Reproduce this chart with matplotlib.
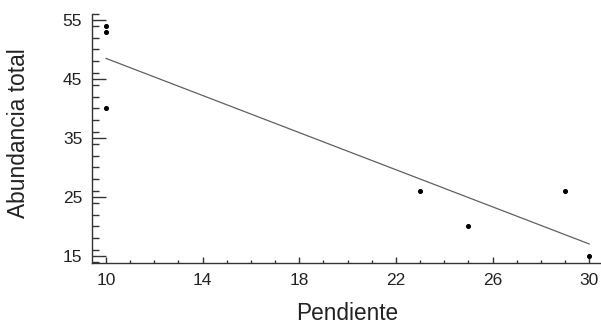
import numpy as np
import matplotlib
matplotlib.use("Agg")
import matplotlib.pyplot as plt
from matplotlib.ticker import MultipleLocator

pendiente = [10, 10, 10, 23, 25, 29, 30]
abundancia = [54, 53, 40, 26, 20, 26, 15]
xticks = [10, 14, 18, 22, 26, 30]
yticks = [15, 25, 35, 45, 55]

plt.rcParams['font.family'] = ['Liberation Sans', 'DejaVu Sans']

fig = plt.figure(figsize=(6.01, 3.24), dpi=100)
ax = fig.add_axes([92/601, 1-263/324, (600-92)/601, (263-14)/324])

slope, intercept = np.polyfit(pendiente, abundancia, 1)
xl = np.array([min(pendiente), max(pendiente)])
ax.plot(xl, intercept + slope*xl, color='#606060', lw=0.9)
ax.scatter(pendiente, abundancia, s=7, color='black', zorder=3)

ax.set_xlim(9.42, 30.45)
ax.set_ylim(13.8, 56.0)
ax.set_xticks(xticks)
ax.set_yticks(yticks)
ax.xaxis.set_minor_locator(MultipleLocator(1))
ax.yaxis.set_minor_locator(MultipleLocator(2))

for s in ['top', 'right']:
    ax.spines[s].set_visible(False)
for s in ['left', 'bottom']:
    ax.spines[s].set_color('#333333')
    ax.spines[s].set_linewidth(1.0)

ax.tick_params(axis='y', which='major', direction='in', length=10, width=1, color='#333333', labelsize=12.5, pad=7, labelcolor='#222222')
ax.tick_params(axis='y', which='minor', direction='in', length=5, width=1, color='#333333')
ax.tick_params(axis='x', which='major', direction='in', length=4, width=1, color='#333333', labelsize=12.5, pad=7, labelcolor='#222222')
ax.tick_params(axis='x', which='minor', direction='in', length=2, width=1, color='#333333')

ax.set_xlabel('Pendiente', fontsize=16.3, color='#222222', va='baseline')
ax.set_ylabel('Abundancia total', fontsize=16.4, color='#222222')
ax.xaxis.set_label_coords(0.503, (263-320)/249)
ax.yaxis.set_label_coords((30.5-92)/508, 0.522)

fig.savefig('out.png', dpi=100)
